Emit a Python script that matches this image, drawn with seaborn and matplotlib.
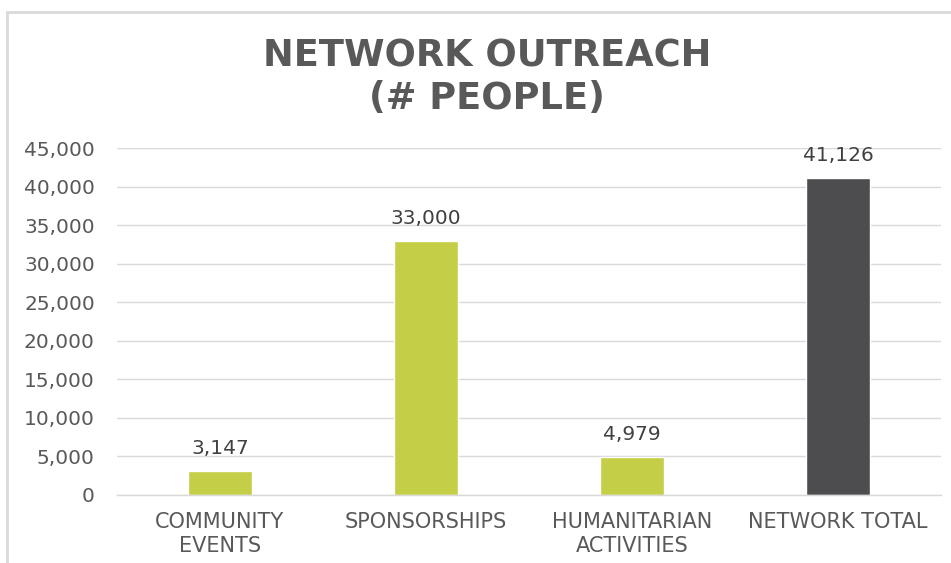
import matplotlib
matplotlib.use("Agg")
import matplotlib.pyplot as plt
import seaborn as sns
import pandas as pd
from matplotlib.patches import Rectangle

categories = ["COMMUNITY\nEVENTS", "SPONSORSHIPS", "HUMANITARIAN\nACTIVITIES", "NETWORK TOTAL"]
values = [3147, 33000, 4979, 41126]
bar_colors = ["#c4ce46", "#c4ce46", "#c4ce46", "#4d4d4f"]
yticks = [0, 5000, 10000, 15000, 20000, 25000, 30000, 35000, 40000, 45000]

df = pd.DataFrame({"category": categories, "value": values})

sns.set_theme(style="white")
plt.rcParams['font.family'] = ['DejaVu Sans']

W, H = 951, 563
fig = plt.figure(figsize=(W / 100, H / 100), dpi=100)
ax = fig.add_axes([117 / W, (H - 495) / H, (941 - 117) / W, (495 - 148) / H])

sns.barplot(data=df, x="category", y="value", hue="category",
            palette=dict(zip(categories, bar_colors)), width=0.315,
            legend=False, ax=ax, saturation=1)

ax.set_ylim(0, 45000)
ax.set_xlim(-0.5, len(categories) - 0.5)
ax.set_yticks(yticks)
ax.set_yticklabels([f"{v:,}" for v in yticks])
ax.yaxis.grid(True, color="#d9d9d9", linewidth=1)
ax.set_axisbelow(True)
for s in ["top", "right", "left"]:
    ax.spines[s].set_visible(False)
ax.spines["bottom"].set_color("#d9d9d9")
ax.spines["bottom"].set_linewidth(1)
ax.tick_params(axis="y", length=0, colors="#595959", labelsize=14.5, pad=16)
ax.tick_params(axis="x", length=0, colors="#595959", labelsize=15, pad=12)
ax.set_xlabel("")
ax.set_ylabel("")
for lbl in ax.get_xticklabels():
    lbl.set_linespacing(1.3)

for i, v in enumerate(values):
    ax.annotate(f"{v:,}", (i, v), xytext=(0, 9), textcoords="offset points",
                ha="center", va="bottom", fontsize=14.5, color="#404040")

fig.text(487 / W, 1 - 77 / H, "NETWORK OUTREACH\n(# PEOPLE)", ha="center", va="center",
         fontsize=26.5, fontweight="bold", color="#595959", linespacing=1.2)

fig.patches.append(Rectangle((7 / W, -0.1), 1.2, 1 - 12 / H + 0.1, transform=fig.transFigure,
                             fill=False, edgecolor="#d9d9d9", linewidth=2))

fig.savefig("out.png", dpi=100)
